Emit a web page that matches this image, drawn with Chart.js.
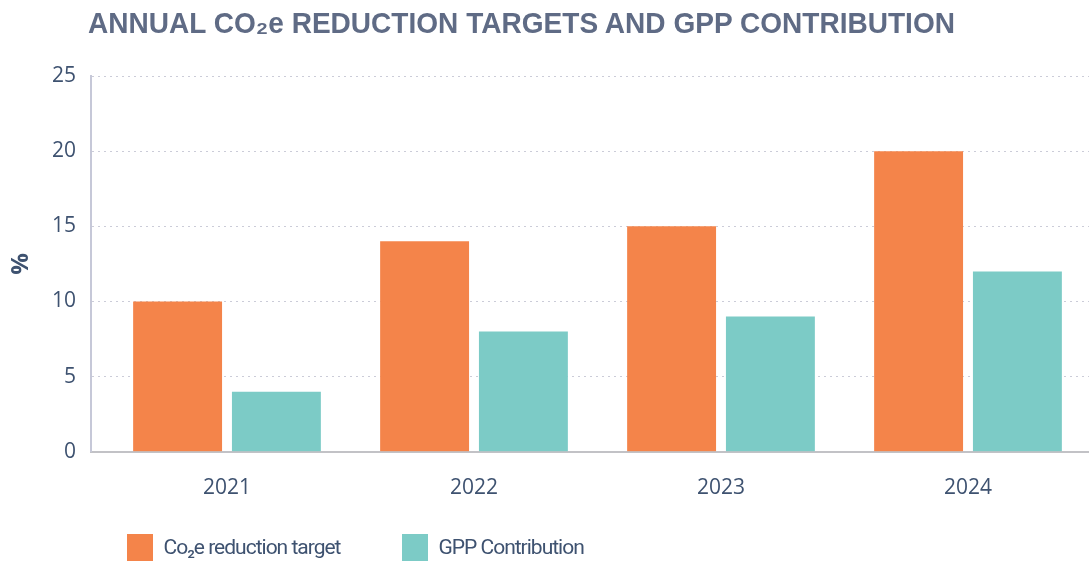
<!DOCTYPE html>
<html>
<head>
<meta charset="utf-8">
<script src="https://cdn.jsdelivr.net/npm/chart.js@4.4.1/dist/chart.umd.min.js"></script>
<style>
html,body{margin:0;padding:0;background:#fff;overflow:hidden;}
#wrap{position:relative;width:1089px;height:561px;}
#title{position:absolute;left:88px;top:6px;font-family:"Liberation Sans",Arial,sans-serif;font-weight:bold;font-size:30px;color:#5f6b85;white-space:nowrap;transform:scaleX(0.935);transform-origin:0 0;z-index:2;}
canvas{position:absolute;left:0;top:0;}
</style>
</head>
<body>
<div id="wrap">
<div id="title">ANNUAL CO₂e REDUCTION TARGETS AND GPP CONTRIBUTION</div>
<canvas id="c" width="1089" height="561"></canvas>
</div>
<script>
const categories = ["2021", "2022", "2023", "2024"];
const targetValues = [10, 14, 15, 20];
const gppValues = [4, 8, 9, 12];
const seriesNames = ["Co₂e reduction target", "GPP Contribution"];
const yTicks = [0, 5, 10, 15, 20, 25];

const tickColor = "#3e5270";
const legendFont = 21;
const legendFamily = "Roboto";
const legendSpacing = "-1px";

const layoutTweaks = {
  id: "layoutTweaks",
  afterLayout(chart) {
    // category band starts a little right of the y axis line, as in the reference
    const x = chart.scales.x;
    x._startPixel = 103.5;
    x._length = 988;
    // legend placement
    const lg = chart.legend;
    const ctx = chart.ctx;
    ctx.save();
    ctx.font = legendFont + "px " + legendFamily;
    ctx.letterSpacing = legendSpacing;
    const tw = ctx.measureText(lg.legendItems[0].text).width;
    ctx.restore();
    const gap = 402 - 127 - (26 + legendFont / 2 + tw);
    lg.options.labels.padding = gap;
    lg.options.labels.boxHeight = 30;
    lg.left = 127 - gap;
    lg.top = 534 - gap;
    lg.bottom = 640;
    lg.height = lg.bottom - lg.top;
    if (!lg._condensed) {
      lg._condensed = true;
      const orig = lg.draw;
      lg.draw = function (area) {
        const c = this.ctx;
        c.save();
        c.letterSpacing = legendSpacing;
        orig.call(this, area);
        c.restore();
      };
    }
  }
};

new Chart(document.getElementById("c"), {
  type: "bar",
  data: {
    labels: categories,
    datasets: [
      {label: seriesNames[0], data: targetValues, backgroundColor: "#f4844a", borderWidth: 0},
      {label: seriesNames[1], data: gppValues, backgroundColor: "#7ccbc6", borderWidth: 0}
    ]
  },
  options: {
    responsive: false,
    animation: false,
    layout: {padding: {top: 76, right: 0, bottom: 0, left: 0}},
    plugins: {
      tooltip: {enabled: false},
      legend: {
        position: "bottom",
        align: "start",
        labels: {
          boxWidth: 26, boxHeight: 26, padding: 0,
          color: tickColor,
          font: {family: legendFamily, size: legendFont}
        }
      }
    },
    scales: {
      x: {
        grid: {display: false, drawTicks: false},
        border: {display: true, color: "#c2c2c6", width: 2},
        ticks: {color: tickColor, padding: 24, font: {family: "'Open Sans', sans-serif", size: 21}}
      },
      y: {
        min: 0, max: 25,
        afterBuildTicks: s => { s.ticks = yTicks.map(v => ({value: v})); },
        afterFit: s => { s.width = 91; },
        title: {display: true, text: "%", color: tickColor, font: {family: "'Open Sans', sans-serif", size: 24, weight: "bold"}, padding: {top: 7, bottom: 0}},
        grid: {color: "#cbccd8", lineWidth: 1, drawTicks: false},
        border: {display: true, color: "#c6c8d8", width: 2, dash: [2, 4]},
        ticks: {color: tickColor, padding: 15, font: {family: "'Open Sans', sans-serif", size: 21}}
      }
    }
  },
  plugins: [layoutTweaks]
});
</script>
</body>
</html>
